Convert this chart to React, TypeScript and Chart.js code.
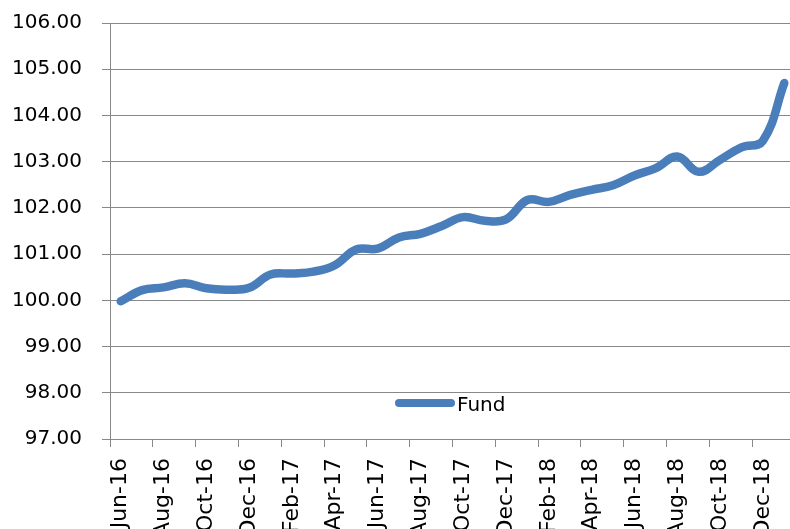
import { useEffect, useRef } from "react"
import { Chart, registerables } from "chart.js"

Chart.register(...registerables)

// Monthly fund index, Jun-16 .. Jan-19
const months = [
  "Jun-16", "Jul-16", "Aug-16", "Sep-16", "Oct-16", "Nov-16", "Dec-16",
  "Jan-17", "Feb-17", "Mar-17", "Apr-17", "May-17", "Jun-17", "Jul-17",
  "Aug-17", "Sep-17", "Oct-17", "Nov-17", "Dec-17", "Jan-18", "Feb-18",
  "Mar-18", "Apr-18", "May-18", "Jun-18", "Jul-18", "Aug-18", "Sep-18",
  "Oct-18", "Nov-18", "Dec-18", "Jan-19",
]

const fundValues = [
  99.98, 100.22, 100.28, 100.37, 100.26, 100.23, 100.27,
  100.56, 100.58, 100.62, 100.76, 101.1, 101.12, 101.36,
  101.44, 101.61, 101.8, 101.72, 101.75, 102.17, 102.13,
  102.28, 102.39, 102.49, 102.7, 102.86, 103.11, 102.78,
  103.04, 103.31, 103.45, 104.7,
]

const seriesName = "Fund"
const lineColor = "#4a7ebb"
const gridColor = "#888888"
const fontFamily = "'DejaVu Sans', sans-serif"

// Legend sits inside the plot, as in the spreadsheet original
const insideLegend = {
  id: "insideLegend",
  afterDraw(chart: Chart) {
    const ctx = chart.ctx
    const ds = chart.data.datasets[0] as any
    ctx.save()
    ctx.strokeStyle = ds.borderColor
    ctx.lineWidth = 8
    ctx.lineCap = "round"
    ctx.beginPath()
    ctx.moveTo(399, 403)
    ctx.lineTo(451, 403)
    ctx.stroke()
    ctx.fillStyle = "#000"
    ctx.font = `20px ${fontFamily}`
    ctx.textBaseline = "alphabetic"
    ctx.textAlign = "left"
    ctx.fillText(ds.label, 457, 411)
    ctx.restore()
  },
}

function FundChart() {
  const chartRef = useRef<HTMLCanvasElement>(null)
  const chartInstance = useRef<Chart | null>(null)

  useEffect(() => {
    if (!chartRef.current) return
    if (chartInstance.current) chartInstance.current.destroy()

    const ctx = chartRef.current.getContext("2d")
    if (!ctx) return

    chartInstance.current = new Chart(ctx, {
      type: "line",
      data: {
        labels: months,
        datasets: [
          {
            label: seriesName,
            data: fundValues,
            borderColor: lineColor,
            backgroundColor: lineColor,
            borderWidth: 8.5,
            borderCapStyle: "round",
            borderJoinStyle: "round",
            pointRadius: 0,
            tension: 0.4,
            fill: false,
          },
        ],
      },
      options: {
        responsive: true,
        maintainAspectRatio: false,
        animation: false,
        layout: { padding: { top: 23, right: 5, bottom: 0, left: 0 } },
        plugins: {
          legend: { display: false },
          tooltip: { enabled: false },
        },
        scales: {
          x: {
            type: "category",
            offset: true,
            afterFit: (scale: any) => {
              scale.height = 90
              scale.paddingLeft = 0
              scale.paddingRight = 0
            },
            grid: {
              offset: true,
              drawOnChartArea: false,
              drawTicks: true,
              tickLength: 8,
              lineWidth: 1,
              color: (c: any) => (c.index % 2 === 0 ? gridColor : "rgba(0,0,0,0)"),
            },
            border: { display: true, color: gridColor, width: 1 },
            ticks: {
              autoSkip: false,
              minRotation: 90,
              maxRotation: 90,
              padding: 11,
              color: "#000",
              font: { family: fontFamily, size: 22 },
              callback: (_v: any, i: number) => (i % 2 === 0 ? months[i] : ""),
            },
          },
          y: {
            min: 97,
            max: 106,
            afterFit: (scale: any) => {
              scale.width = 110
              scale.paddingTop = 0
              scale.paddingBottom = 0
            },
            grid: {
              color: gridColor,
              lineWidth: 1,
              tickLength: 8,
            },
            border: { display: true, color: gridColor, width: 1 },
            ticks: {
              stepSize: 1,
              padding: 20,
              color: "#000",
              font: { family: fontFamily, size: 20 },
              callback: (v: any) => Number(v).toFixed(2),
            },
          },
        },
      },
      plugins: [insideLegend],
    })

    return () => {
      if (chartInstance.current) {
        chartInstance.current.destroy()
        chartInstance.current = null
      }
    }
  }, [])

  return <canvas ref={chartRef} />
}

export default function App() {
  return (
    <div
      style={{
        position: "fixed",
        left: 0,
        top: 0,
        width: 790,
        height: 529,
        overflow: "hidden",
        background: "#fff",
      }}
    >
      <div style={{ position: "relative", width: 800, height: 529 }}>
        <FundChart />
      </div>
    </div>
  )
}
